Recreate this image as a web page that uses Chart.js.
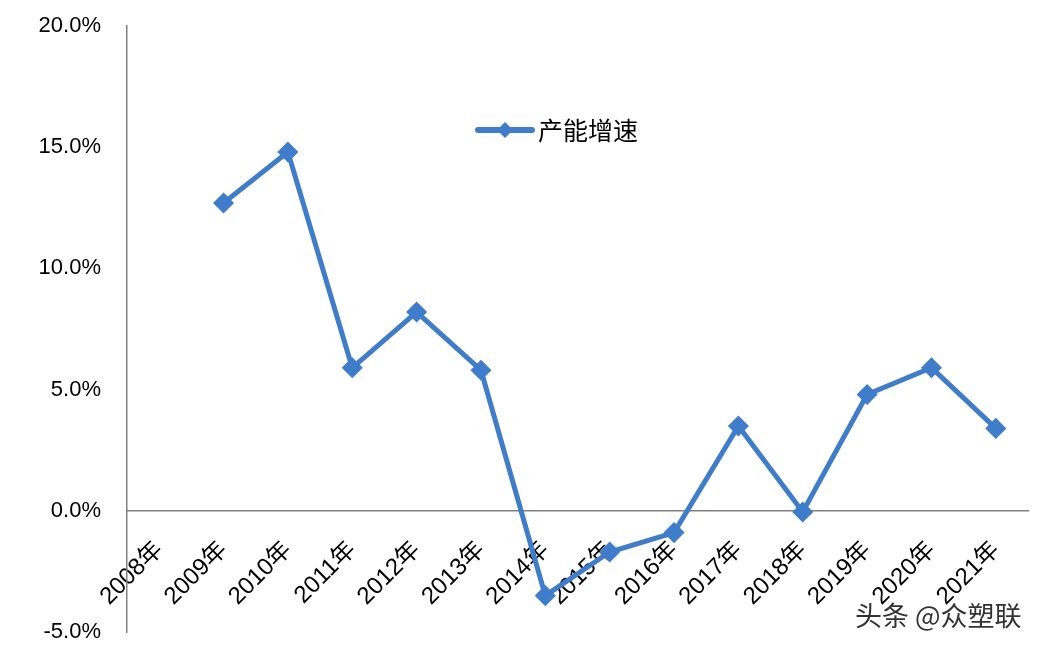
<!DOCTYPE html>
<html lang="zh">
<head>
    <meta charset="UTF-8">
    <title>产能增速</title>
    <script src="https://cdn.jsdelivr.net/npm/chart.js@4.4.0/dist/chart.umd.min.js"></script>
    <style>
        body { margin: 0; background: #fff; }
        .wrap { position: relative; width: 1040px; height: 648px; }
        .mark {
            position: absolute; left: 855px; top: 595px;
            font: 27px "Noto Sans CJK SC", sans-serif; color: #333;
            text-shadow: 0 0 2px #fff, 0 0 2px #fff;
        }
    </style>
</head>
<body>
<div class="wrap">
    <canvas id="chart" width="1040" height="648"></canvas>
    <div class="mark">头条 @众塑联</div>
</div>
<script>
    // data
    const years = ['2008年', '2009年', '2010年', '2011年', '2012年', '2013年', '2014年',
                   '2015年', '2016年', '2017年', '2018年', '2019年', '2020年', '2021年'];
    const growth = [null, 12.7, 14.8, 5.9, 8.2, 5.8, -3.5, -1.7, -0.9, 3.5, -0.05, 4.8, 5.9, 3.4];
    const yTicks = [-5, 0, 5, 10, 15, 20];

    const blue = '#3f7dcb';
    const font = '"Liberation Sans", "Noto Sans CJK SC", sans-serif';

    // legend sits inside the plot, so draw it by hand
    const innerLegend = {
        id: 'innerLegend',
        afterDraw(chart) {
            const ctx = chart.ctx;
            const x = 478, y = 130;
            ctx.save();
            ctx.strokeStyle = blue;
            ctx.lineWidth = 6;
            ctx.lineCap = 'round';
            ctx.beginPath();
            ctx.moveTo(x, y);
            ctx.lineTo(x + 54, y);
            ctx.stroke();
            ctx.fillStyle = blue;
            ctx.beginPath();
            ctx.moveTo(x + 27, y - 8);
            ctx.lineTo(x + 35, y);
            ctx.lineTo(x + 27, y + 8);
            ctx.lineTo(x + 19, y);
            ctx.closePath();
            ctx.fill();
            ctx.fillStyle = '#000';
            ctx.font = '25px "Noto Sans CJK SC", sans-serif';
            ctx.textBaseline = 'middle';
            ctx.fillText('产能增速', x + 60, y);
            ctx.restore();
        }
    };

    new Chart(document.getElementById('chart'), {
        type: 'line',
        data: {
            labels: years,
            datasets: [{
                label: '产能增速',
                data: growth,
                borderColor: blue,
                backgroundColor: blue,
                borderWidth: 5,
                pointStyle: 'rectRot',
                pointRadius: 7,
                pointHoverRadius: 7,
                tension: 0,
                spanGaps: false
            }]
        },
        options: {
            responsive: false,
            animation: false,
            layout: { padding: { top: 26, right: -4, bottom: 16, left: 0 } },
            plugins: {
                legend: { display: false },
                tooltip: { enabled: false }
            },
            scales: {
                x: {
                    position: { y: 0 },
                    offset: true,
                    grid: { display: false, drawTicks: false },
                    border: { color: '#808080', width: 1.5 },
                    ticks: {
                        color: '#000',
                        font: { family: font, size: 24 },
                        minRotation: 45,
                        maxRotation: 45,
                        autoSkip: false,
                        padding: 25
                    },
                    afterFit(scale) {
                        scale.paddingLeft = 0;
                        scale.paddingRight = 0;
                    }
                },
                y: {
                    min: -5,
                    max: 20,
                    afterBuildTicks(scale) {
                        scale.ticks = yTicks.map(v => ({ value: v }));
                    },
                    afterFit(scale) {
                        // tick padding would otherwise push the plot in at top/bottom
                        scale.width = 127;
                        scale.paddingTop = 0;
                        scale.paddingBottom = 0;
                    },
                    grid: { display: false, drawTicks: false },
                    border: { color: '#808080', width: 1.5 },
                    ticks: {
                        color: '#000',
                        font: { family: font, size: 22 },
                        padding: 26,
                        callback: v => v.toFixed(1) + '%'
                    }
                }
            }
        },
        plugins: [innerLegend]
    });
</script>
</body>
</html>
